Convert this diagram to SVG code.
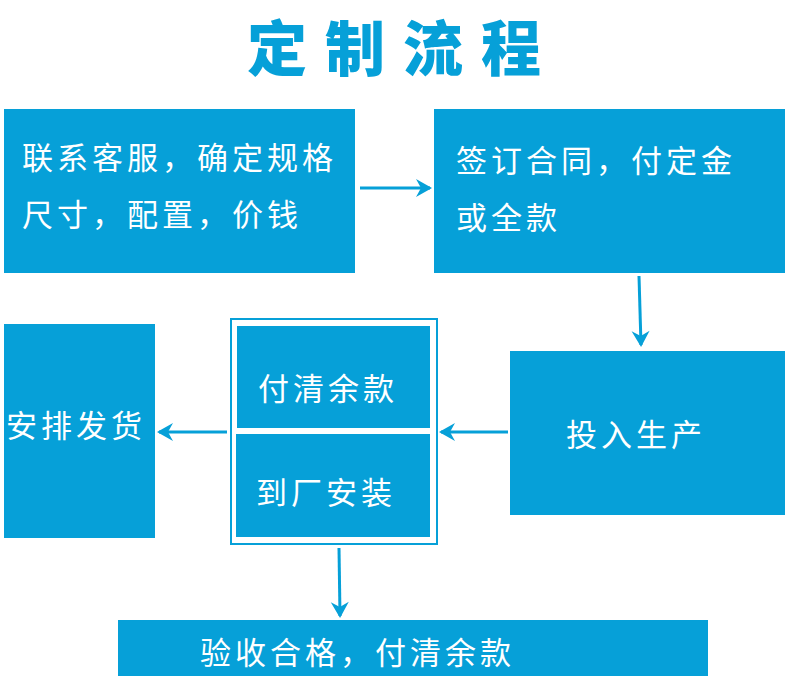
<svg xmlns="http://www.w3.org/2000/svg" width="790" height="688" viewBox="0 0 790 688">
<defs>
<style>
.b{fill:#06a0d8}
.t{fill:#fff;font-family:"Noto Sans CJK SC","Noto Sans",sans-serif;font-size:31px;letter-spacing:4px;dominant-baseline:central}
.c{stroke:#06a0d8;stroke-width:3;fill:none;marker-end:url(#a)}
</style>
<marker id="a" viewBox="-16 -10 18 20" refX="0" refY="0" markerWidth="18" markerHeight="20" orient="auto" markerUnits="userSpaceOnUse"><path d="M2,0 L-14,-9 L-9,0 L-14,9 Z" fill="#06a0d8"/></marker>
</defs>
<rect width="790" height="688" fill="#fff"/>
<text x="403" y="44" text-anchor="middle" dominant-baseline="central" font-family="Noto Sans CJK SC,sans-serif" font-weight="900" font-size="60" letter-spacing="18" fill="#06a0d8">定制流程</text>
<g id="n1"><rect class="b" x="4" y="109" width="351" height="164"/><text class="t" x="22" y="155">联系客服，确定规格</text><text class="t" x="22" y="212">尺寸，配置，价钱</text></g>
<g id="n2"><rect class="b" x="434" y="109" width="351" height="164"/><text class="t" x="456" y="158">签订合同，付定金</text><text class="t" x="456" y="215">或全款</text></g>
<g id="n3"><rect class="b" x="510" y="351" width="275" height="164"/><text class="t" x="566" y="432">投入生产</text></g>
<g id="n4"><rect class="b" x="4" y="324" width="151" height="214"/><text class="t" x="6" y="423">安排发货</text></g>
<g id="n5"><rect x="231" y="319" width="206" height="225" fill="#fff" stroke="#06a0d8" stroke-width="2"/>
<rect class="b" x="237" y="326" width="193" height="102"/><text class="t" x="258" y="386">付清余款</text>
<rect class="b" x="236" y="434" width="194" height="103"/><text class="t" x="256" y="490">到厂安装</text></g>
<g id="n6"><rect class="b" x="118" y="620" width="590" height="56"/><text class="t" x="200" y="650">验收合格，付清余款</text></g>
<g id="connectors">
<path class="c" d="M360,188 L430,188"/>
<path class="c" d="M639,276 L641,345"/>
<path class="c" d="M508,432 L441,432"/>
<path class="c" d="M227,432 L159,432"/>
<path class="c" d="M339,548 L340,616"/>
</g>
</svg>
